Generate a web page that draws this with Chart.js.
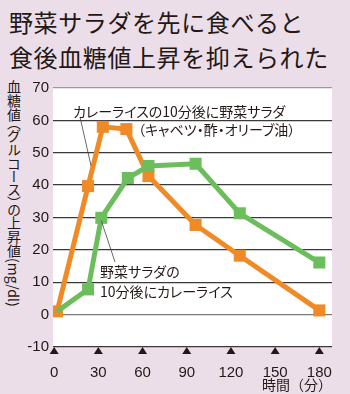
<!DOCTYPE html>
<html lang="ja">
<head>
<meta charset="utf-8">
<script src="https://cdn.jsdelivr.net/npm/chart.js@4.4.0/dist/chart.umd.min.js"></script>
<style>
  html, body { margin: 0; padding: 0; }
  body { width: 350px; height: 394px; background: #ecdee9; position: relative; overflow: hidden;
         font-family: 'Noto Sans CJK JP', sans-serif; color: #231815; }
  #title { position: absolute; left: 9px; top: 4px; font-size: 24px; line-height: 35px; letter-spacing: 0.6px; white-space: nowrap; }
  #ytitle { position: absolute; left: 7px; top: 80px; font-size: 14px; line-height: 14px;
            writing-mode: vertical-rl; font-feature-settings: "vpal"; letter-spacing: 0; white-space: nowrap; }
  .note { position: absolute; font-size: 14px; line-height: 20px; font-feature-settings: "palt"; white-space: nowrap; }
  canvas { position: absolute; left: 0; top: 0; }
</style>
</head>
<body>
<div id="title">野菜サラダを先に食べると<br>食後血糖値上昇を抑えられた</div>
<div id="ytitle">血糖値（グルコース）の上昇値(mg/dl)</div>
<canvas id="c" width="350" height="394"></canvas>
<div class="note" style="left:73px; top:101px;">カレーライスの10分後に野菜サラダ</div>
<div class="note" style="left:138px; top:119px;">（キャベツ・酢・オリーブ油）</div>
<div class="note" style="left:100px; top:261px;">野菜サラダの<br>10分後にカレーライス</div>
<script>
// 時間（分）
const xTicks = [0, 30, 60, 90, 120, 150, 180]
const yTicks = [-10, 0, 10, 20, 30, 40, 50, 60, 70]

// カレーライスの10分後に野菜サラダ（オレンジ）
const curryFirstTime  = [2, 23, 33, 49, 64, 96, 126, 180]
const curryFirstValue = [1, 39.7, 58, 57.3, 42.8, 27.7, 18.2, 1.3]

// 野菜サラダの10分後にカレーライス（緑）
const saladFirstTime  = [2, 23, 32, 50, 64, 96, 126, 180]
const saladFirstValue = [1, 7.8, 29.9, 42.2, 45.9, 46.6, 31.3, 16.1]

const ORANGE = '#f08a26'
const GREEN  = '#6cbd5b'
const TEXT   = '#231815'

const toPts = (xs, ys) => xs.map((x, i) => ({ x, y: ys[i] }))

// 白いプロットエリア、▲マーク、引き出し線
const decoPlugin = {
  id: 'deco',
  beforeDraw(chart) {
    const { ctx: c, chartArea: a } = chart
    c.save()
    c.fillStyle = '#ffffff'
    c.fillRect(a.left, a.top, a.right - a.left, a.bottom - a.top)
    c.restore()
  },
  afterDraw(chart) {
    const { ctx: c, chartArea: a, scales: { x, y } } = chart
    c.save()
    c.fillStyle = '#231815'
    xTicks.forEach(v => {
      const px = x.getPixelForValue(v)
      c.beginPath()
      c.moveTo(px, a.bottom)
      c.lineTo(px + 4.5, a.bottom + 7)
      c.lineTo(px - 4.5, a.bottom + 7)
      c.closePath()
      c.fill()
    })
    // leader lines
    c.strokeStyle = '#444'
    c.lineWidth = 0.8
    c.beginPath()
    c.moveTo(80, 117); c.lineTo(x.getPixelForValue(25), y.getPixelForValue(46))
    c.moveTo(x.getPixelForValue(32), y.getPixelForValue(29)); c.lineTo(115, 262)
    c.stroke()
    c.restore()
  }
}

new Chart(document.getElementById('c'), {
  type: 'line',
  plugins: [decoPlugin],
  data: {
    datasets: [
      {
        label: '野菜サラダの10分後にカレーライス',
        data: toPts(saladFirstTime, saladFirstValue),
        borderColor: GREEN, backgroundColor: GREEN,
        borderWidth: 5, pointStyle: 'rect',
        pointRadius: ctx => ctx.dataIndex === 0 ? 0 : 8.5,
        pointBorderWidth: 0, tension: 0, order: 0
      },
      {
        label: 'カレーライスの10分後に野菜サラダ',
        data: toPts(curryFirstTime, curryFirstValue),
        borderColor: ORANGE, backgroundColor: ORANGE,
        borderWidth: 5, pointStyle: 'rect', pointRadius: 8.5,
        pointBorderWidth: 0, tension: 0, order: 1
      }
    ]
  },
  options: {
    responsive: false,
    devicePixelRatio: 1,
    animation: false,
    layout: { padding: { left: 0, top: 88, right: 18, bottom: 0 } },
    plugins: { legend: { display: false }, tooltip: { enabled: false } },
    scales: {
      x: {
        type: 'linear', min: -0.8, max: 188.6,
        afterFit: s => { s.height = 47 },
        afterBuildTicks: s => { s.ticks = xTicks.map(v => ({ value: v })) },
        grid: { display: false }, border: { display: false },
        ticks: { color: TEXT, padding: 9, maxRotation: 0, autoSkip: false,
                 font: { family: "'Liberation Sans', Arial, sans-serif", size: 15 } },
        title: { display: true, text: '時間（分）', align: 'end', color: TEXT,
                 padding: { top: 0, bottom: 1 },
                 font: { family: "'Noto Sans CJK JP', sans-serif", size: 14 } }
      },
      y: {
        min: -10, max: 70,
        afterFit: s => { s.width = 53 },
        afterBuildTicks: s => { s.ticks = yTicks.map(v => ({ value: v })) },
        border: { display: false },
        grid: {
          drawTicks: false, lineWidth: 1.3,
          color: ctx => ctx.tick && ctx.tick.value === 70 ? '#9a9a9a' : ctx.tick && ctx.tick.value === 0 ? '#7a7a7a' : '#3a3a3a'
        },
        ticks: { color: TEXT, padding: 4,
                 font: { family: "'Liberation Sans', Arial, sans-serif", size: 15 } }
      }
    }
  }
})
</script>
</body>
</html>
